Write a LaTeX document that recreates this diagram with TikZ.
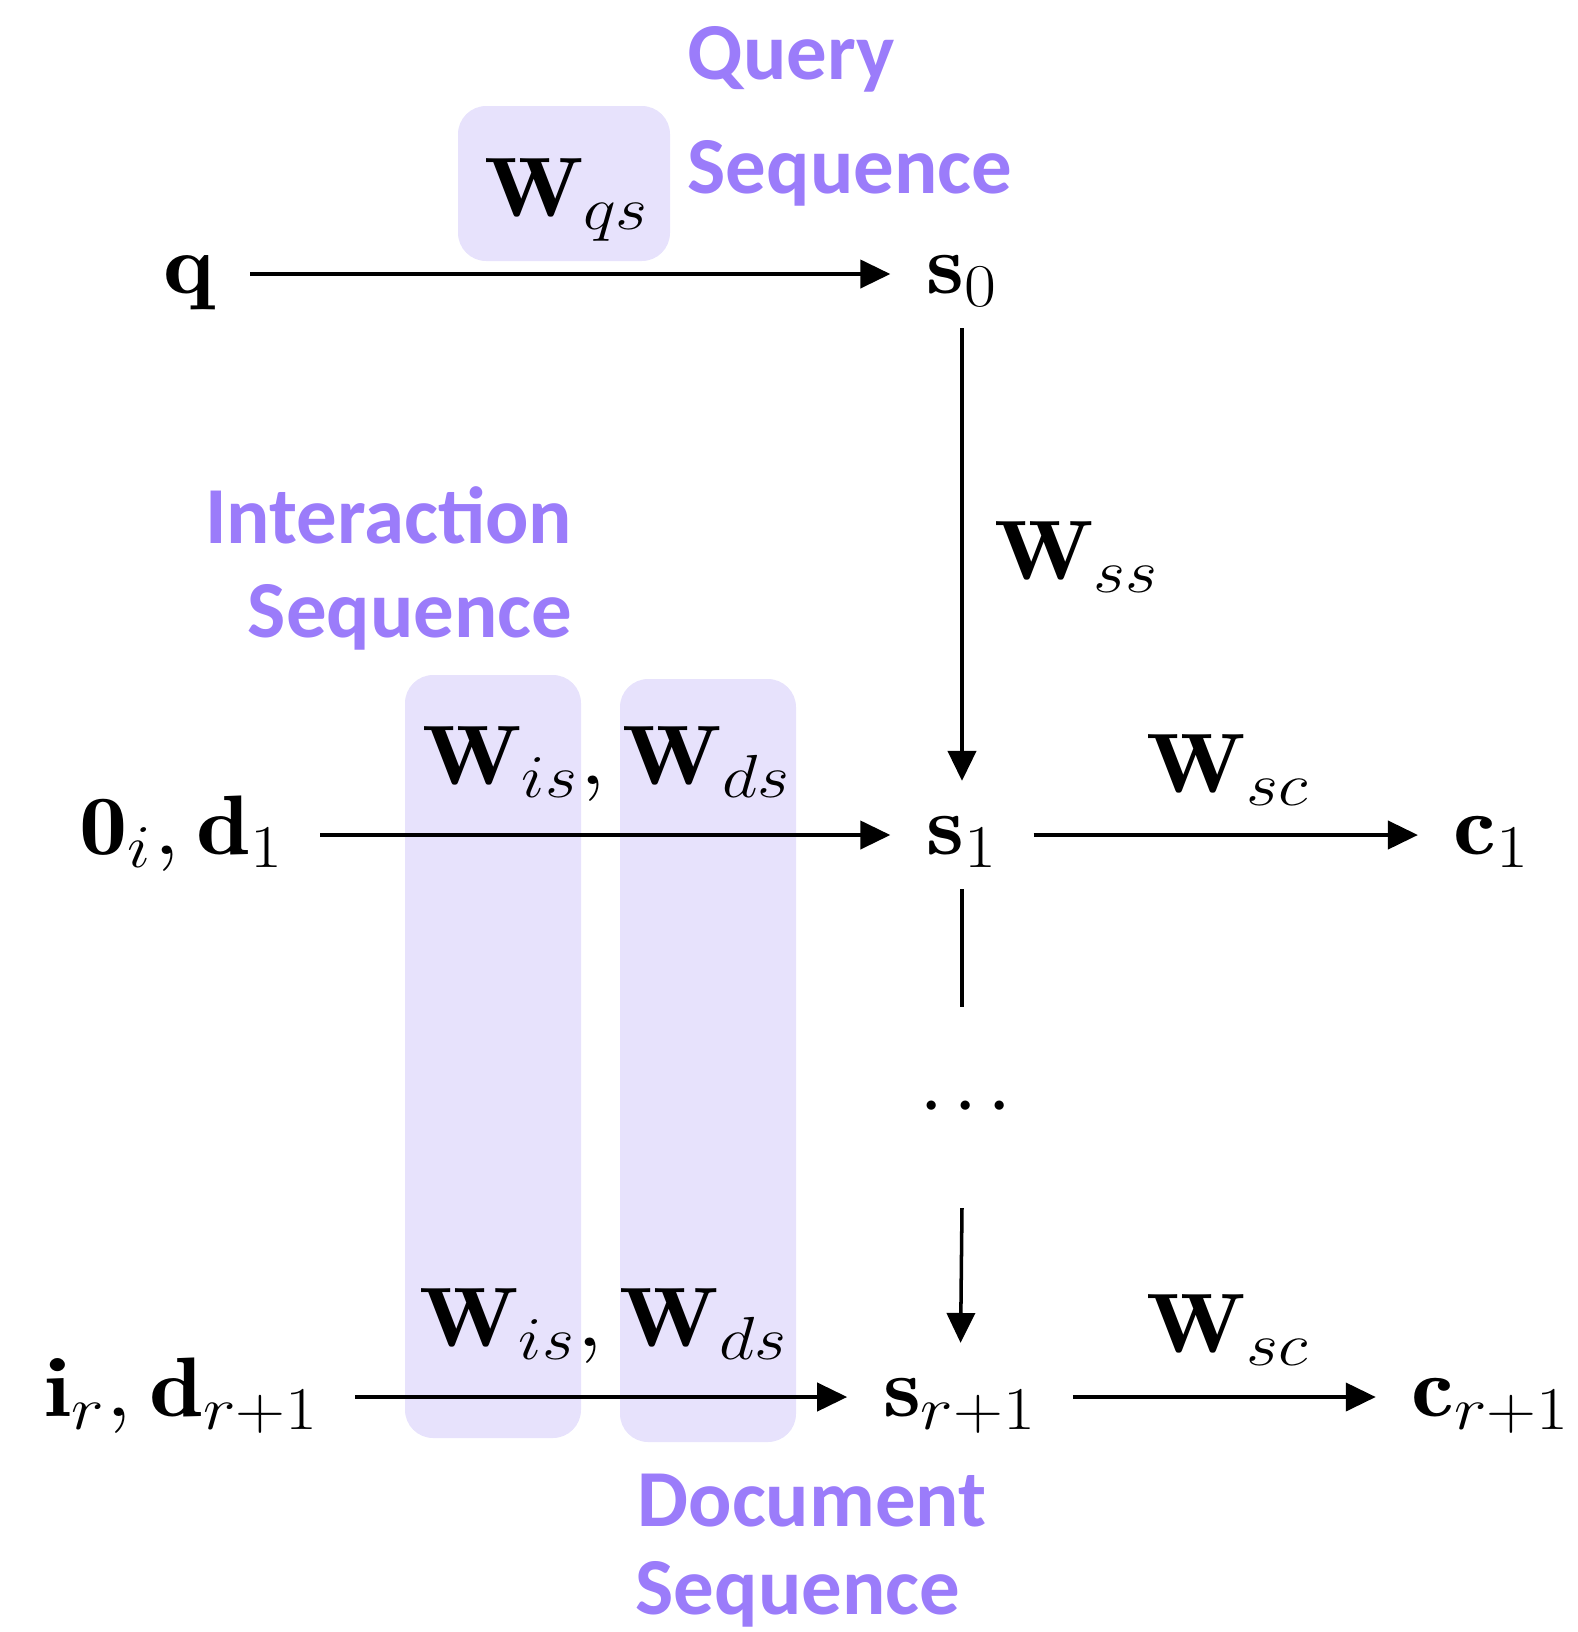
\documentclass[tikz,border=0pt]{standalone}
\usepackage{amsmath,amssymb}
\usepackage{graphicx}
\usepackage{fontspec}
\usepackage{tikz}
\usetikzlibrary{arrows.meta}
\newfontfamily\seqfont{Carlito}
\definecolor{seqpurple}{RGB}{155,124,250}
\definecolor{wfill}{RGB}{231,226,252}
% the math in the figure is set a bit wide
\newcommand{\stretchx}[1]{\scalebox{1.14}[1]{#1}}

\begin{document}
\begin{tikzpicture}[x=0.01cm,y=-0.01cm,
  vec/.style={inner xsep=10pt, inner ysep=5pt, text height=15.6pt,
    text depth=4.8pt, font=\fontsize{24}{29}\selectfont},
  wlabel/.style={inner sep=0pt, font=\fontsize{24}{29}\selectfont},
  seqlabel/.style={inner sep=0pt, text=seqpurple,
    font=\fontsize{23}{28}\selectfont\seqfont\bfseries},
  wbox/.style={fill=wfill, rounded corners=8pt},
  arr/.style={-{Triangle[length=8.5pt,width=8pt]}, line width=1pt}]
  \useasboundingbox (0,0) rectangle (1578,1632);
  % weight boxes (behind everything)
  \fill[wbox] (458,106) rectangle (670,261);
  \fill[wbox] (405,675) rectangle (581,1438);
  \fill[wbox] (620,679) rectangle (796,1442);
  % sequence labels
  \node[seqlabel, anchor=base west] (qtop) at (687,79) {Query};
  \node[seqlabel, anchor=base west] (qbot) at (687,193) {Sequence};
  \node[seqlabel, anchor=base east] (itop) at (573,543) {Interaction};
  \node[seqlabel, anchor=base east] (ibot) at (573,637) {Sequence};
  \node[seqlabel, anchor=base west] (dtop) at (637,1526) {Document};
  \node[seqlabel, anchor=base west] (dbot) at (635,1614) {Sequence};
  % vectors
  \node[vec] (q) at (189,274) {\stretchx{$\mathbf{q}$}};
  \node[vec] (s0) at (962,274) {\stretchx{$\mathbf{s}_0$}};
  \node[vec] (in1) at (182,835) {\stretchx{$\mathbf{0}_i, \mathbf{d}_1$}};
  \node[vec] (s1) at (962,835) {\stretchx{$\mathbf{s}_1$}};
  \node[vec] (c1) at (1492,835) {\stretchx{$\mathbf{c}_1$}};
  \node[vec] (inr) at (182,1397) {\stretchx{$\mathbf{i}_r, \mathbf{d}_{r+1}$}};
  \node[vec] (sr1) at (960,1397) {\stretchx{$\mathbf{s}_{r+1}$}};
  \node[vec] (cr1) at (1491,1397) {\stretchx{$\mathbf{c}_{r+1}$}};
  \node[wlabel] (dots) at (966,1108)
    {$\cdotp\mkern-1mu\cdotp\mkern-1mu\cdotp$};
  \coordinate (cut1) at (962,1007);
  \coordinate (cut2) at (962,1208);
  % weights
  \node[wlabel] (wqs) at (567,200) {\stretchx{$\mathbf{W}_{qs}$}};
  \node[wlabel] (wss) at (1077,557) {\stretchx{$\mathbf{W}_{ss}$}};
  \node[wlabel] (wid1) at (607,764) {\stretchx{$\mathbf{W}_{is}, \mathbf{W}_{ds}$}};
  \node[wlabel] (wsc1) at (1228,770) {\stretchx{$\mathbf{W}_{sc}$}};
  \node[wlabel] (wid2) at (604,1326) {\stretchx{$\mathbf{W}_{is}, \mathbf{W}_{ds}$}};
  \node[wlabel] (wsc2) at (1228,1330) {\stretchx{$\mathbf{W}_{sc}$}};
  % connectors
  \draw[arr] (q) -- (s0);
  \draw[arr] (s0) -- (s1);
  \draw[arr] (in1) -- (s1);
  \draw[arr] (s1) -- (c1);
  \draw[line width=1pt] (s1) -- (cut1);
  \draw[arr] (cut2) -- (sr1);
  \draw[arr] (inr) -- (sr1);
  \draw[arr] (sr1) -- (cr1);
\end{tikzpicture}
\end{document}
